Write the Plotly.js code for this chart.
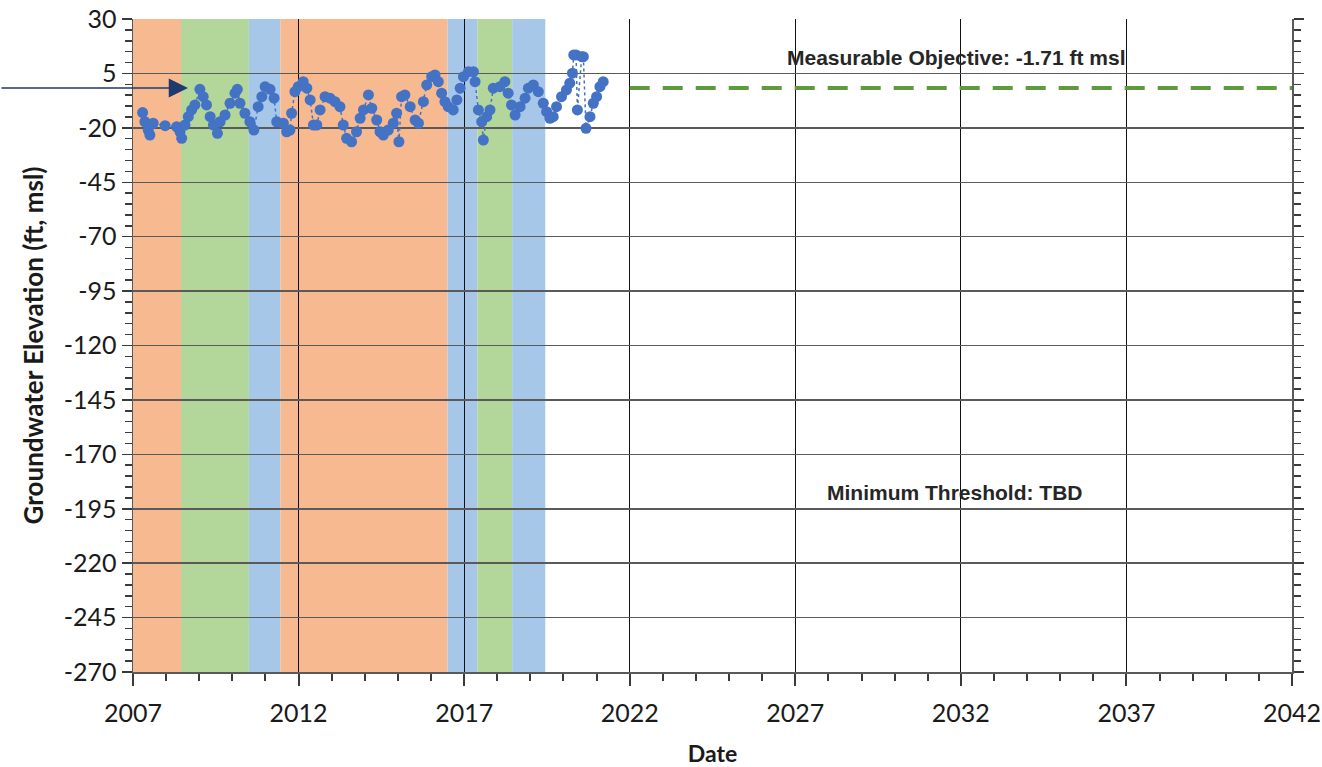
<!DOCTYPE html>
<html>
<head>
<meta charset="utf-8">
<script src="https://cdn.plot.ly/plotly-3.0.1.min.js"></script>
<style>html,body{margin:0;padding:0;background:#fff;}#chart{width:1322px;height:767px;}</style>
</head>
<body>
<div id="chart"></div>
<script>
// Groundwater elevation observations (decimal year, ft msl)
const obsYears = [2007.29,2007.36,2007.46,2007.51,2007.61,2007.97,2008.32,2008.42,2008.47,2008.57,2008.67,2008.77,2008.87,2009.02,2009.12,2009.22,2009.33,2009.43,2009.55,2009.63,2009.78,2009.93,2010.08,2010.15,2010.23,2010.38,2010.53,2010.65,2010.78,2010.89,2010.99,2011.14,2011.26,2011.34,2011.54,2011.64,2011.74,2011.79,2011.89,2011.99,2012.14,2012.25,2012.35,2012.45,2012.55,2012.65,2012.80,2012.95,2013.10,2013.25,2013.35,2013.45,2013.60,2013.75,2013.86,2013.96,2014.11,2014.21,2014.36,2014.46,2014.56,2014.71,2014.86,2014.96,2015.03,2015.11,2015.21,2015.37,2015.52,2015.62,2015.77,2015.87,2016.02,2016.12,2016.22,2016.32,2016.42,2016.52,2016.67,2016.78,2016.88,2016.98,2017.13,2017.28,2017.33,2017.43,2017.53,2017.58,2017.68,2017.78,2017.88,2018.08,2018.23,2018.33,2018.43,2018.54,2018.69,2018.84,2018.94,2019.09,2019.24,2019.39,2019.49,2019.59,2019.69,2019.79,2019.94,2020.09,2020.19,2020.27,2020.31,2020.38,2020.42,2020.55,2020.60,2020.68,2020.80,2020.90,2021.00,2021.10,2021.20];
const obsElev = [-13.0,-17.2,-21.0,-23.3,-17.9,-19.0,-19.5,-21.8,-24.8,-18.7,-14.9,-11.8,-9.5,-2.3,-5.7,-9.5,-14.9,-18.7,-22.5,-17.2,-14.1,-8.7,-4.1,-2.3,-8.7,-13.3,-17.2,-21.0,-10.3,-5.7,-1.1,-2.3,-6.4,-17.2,-17.9,-21.8,-21.0,-13.3,-3.4,-1.1,1.2,-1.8,-7.2,-18.7,-18.7,-11.8,-5.7,-6.4,-8.0,-10.3,-18.7,-24.8,-26.4,-21.8,-15.6,-11.8,-4.9,-11.0,-16.4,-21.8,-23.3,-21.0,-17.9,-13.3,-26.4,-5.7,-4.9,-10.3,-16.4,-17.9,-8.0,-0.3,3.5,4.3,1.2,-4.1,-8.0,-10.3,-11.8,-7.2,-1.8,3.5,5.8,5.8,1.2,-11.8,-17.2,-25.6,-14.9,-11.8,-1.8,-1.1,1.2,-4.1,-9.5,-14.1,-10.3,-6.4,-1.8,-0.3,-3.4,-8.7,-12.6,-15.6,-14.9,-10.3,-5.7,-2.6,0.5,5.1,13.5,13.5,-11.8,12.7,12.7,-20.2,-14.9,-8.7,-5.7,-1.1,1.2];

// Measurable objective line
const objectiveYears = [2022, 2042];
const objectiveElev = [-1.71, -1.71];

// Water-year-type background bands
const bandStart = [2007, 2008.45, 2010.5, 2011.45, 2016.5, 2017.4, 2018.45];
const bandEnd   = [2008.45, 2010.5, 2011.45, 2016.5, 2017.4, 2018.45, 2019.45];
const bandType  = ['dry', 'normal', 'wet', 'dry', 'wet', 'normal', 'wet'];
const bandColors = {dry: '#f6b990', normal: '#b3d69b', wet: '#a6c7e8'};

// Axis
const xTicks = [2007, 2012, 2017, 2022, 2027, 2032, 2037, 2042];
const yTicks = [30, 5, -20, -45, -70, -95, -120, -145, -170, -195, -220, -245, -270];

const labelObjective = 'Measurable Objective: -1.71 ft msl';
const labelThreshold = 'Minimum Threshold: TBD';

const shapes = bandStart.map((s, i) => ({
  type: 'rect', xref: 'x', yref: 'paper', x0: s, x1: bandEnd[i], y0: 0, y1: 1,
  fillcolor: bandColors[bandType[i]], line: {width: 0}, layer: 'below'
}));

const traces = [
  {
    x: obsYears, y: obsElev, type: 'scatter', mode: 'lines+markers',
    line: {color: '#4472c4', width: 1.5, dash: 'dot'},
    marker: {color: '#4472c4', size: 11},
    showlegend: false, cliponaxis: false
  },
  {
    x: objectiveYears, y: objectiveElev, type: 'scatter', mode: 'lines',
    line: {color: '#5f9a3f', width: 4, dash: '20px,13px'},
    showlegend: false
  }
];

const tickFont = {family: 'Lato, "Open Sans", sans-serif', size: 25, color: '#1a1a1a'};

const layout = {
  width: 1322, height: 767,
  margin: {l: 133, r: 30, t: 19, b: 95},
  paper_bgcolor: '#ffffff', plot_bgcolor: '#ffffff',
  showlegend: false,
  shapes: shapes,
  xaxis: {
    range: [2007, 2042], tickmode: 'array', tickvals: xTicks, ticktext: xTicks.map(String),
    showgrid: true, gridcolor: '#111111', gridwidth: 1,
    zeroline: false, showline: true, linecolor: '#5a5a5a', linewidth: 2, mirror: false,
    ticks: 'outside', ticklen: 12, tickwidth: 2, tickcolor: '#3a3a3a',
    ticklabelstandoff: 6,
    minor: {dtick: 1, tick0: 2007, ticks: 'outside', ticklen: 7, tickwidth: 2, tickcolor: '#3a3a3a', showgrid: false},
    tickfont: tickFont,
    title: {text: 'Date', font: {family: 'Lato, "Open Sans", sans-serif', size: 23, color: '#1a1a1a', weight: 'bold'}, standoff: 20}
  },
  yaxis: {
    range: [-270, 30], tickmode: 'array', tickvals: yTicks, ticktext: yTicks.map(String),
    showgrid: true, gridcolor: '#5a5a5a', gridwidth: 1.5,
    zeroline: false, showline: true, linecolor: '#5a5a5a', linewidth: 1.5, mirror: 'ticks',
    ticks: 'outside', ticklen: 10, tickwidth: 1.5, tickcolor: '#3a3a3a',
    minor: {dtick: 5, tick0: 30, ticks: 'outside', ticklen: 7, tickwidth: 1.5, tickcolor: '#3a3a3a', showgrid: false},
    tickfont: tickFont,
    title: {text: 'Groundwater Elevation (ft, msl)', font: {family: 'Lato, "Open Sans", sans-serif', size: 26, color: '#1a1a1a', weight: 'bold'}, standoff: 12}
  },
  annotations: [
    {x: 2031.86, y: 12.1, xref: 'x', yref: 'y', text: labelObjective, showarrow: false,
     font: {family: '"Liberation Sans", Arial, sans-serif', size: 21, color: '#262626', weight: 'bold'}},
    {x: 2031.83, y: -187.7, xref: 'x', yref: 'y', text: labelThreshold, showarrow: false,
     font: {family: '"Liberation Sans", Arial, sans-serif', size: 21, color: '#262626', weight: 'bold'}},
    {x: 2008.66, y: objectiveElev[0], xref: 'x', yref: 'y', text: '', showarrow: true,
     ax: -188, ay: 0, axref: 'pixel', ayref: 'pixel',
     arrowhead: 2, arrowsize: 2.4, arrowwidth: 1.6, arrowcolor: '#1f3a6e', standoff: 0}
  ]
};

Plotly.newPlot('chart', traces, layout, {displayModeBar: false, staticPlot: true});
</script>
</body>
</html>
